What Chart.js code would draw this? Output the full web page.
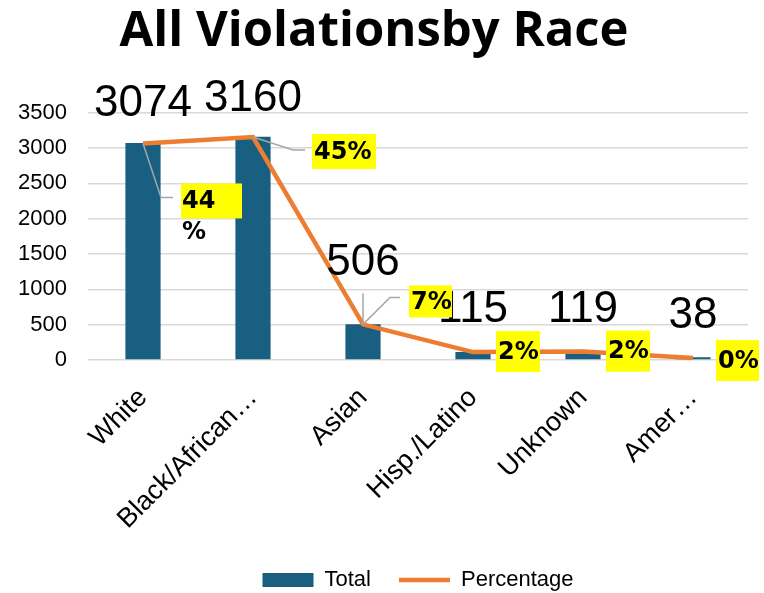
<!DOCTYPE html>
<html>
<head>
<meta charset="utf-8">
<script src="https://cdn.jsdelivr.net/npm/chart.js@4.4.1/dist/chart.umd.min.js"></script>
<style>
  body { margin: 0; background: #fff; }
</style>
</head>
<body>
<canvas id="myChart" width="764" height="593"></canvas>
<script>
var races = ['White', 'Black/African\u2026', 'Asian', 'Hisp./Latino', 'Unknown', 'Amer\u2026'];
var totals = [3074, 3160, 506, 115, 119, 38];
var percentages = [43.8, 45.1, 7.2, 1.6, 1.7, 0.4];
var yTicks = [0, 500, 1000, 1500, 2000, 2500, 3000, 3500];

// how far each value label sits above its bar (px)
var barLift = [27, 26, 49, 30, 30, 29];

// yellow percent boxes, placed relative to the line point
var pctBox = [
    {dx: 38, dy: 40, w: 61, h: 35, wrap: true, leader: [[0, 0], [18, 54], [30, 54]]},
    {dx: 59, dy: -3, w: 64, h: 35, leader: [[0, 0], [40, 13], [52, 13]]},
    {dx: 46, dy: -39, w: 43, h: 32, leader: [[0, 0], [27, -27], [37, -27]]},
    {dx: 23, dy: -21, w: 44, h: 41},
    {dx: 23, dy: -21, w: 44, h: 41},
    {dx: 23, dy: -18, w: 43, h: 41}
]

var labelPlugin = {
    id: 'valueLabels',
    afterLayout: function(chart) {
        // centre the legend under the plot, a bit lower
        var lg = chart.legend, ca = chart.chartArea
        var shift = (ca.left + ca.right) / 2 - (lg.left + lg.right) / 2
        lg.left += shift
        lg.right += shift
        lg.top += 8
        lg.bottom += 8
    },
    afterDatasetsDraw: function(chart) {
        var ctx = chart.ctx
        var bars = chart.getDatasetMeta(0).data
        var pts = chart.getDatasetMeta(1).data
        ctx.save()

        ctx.font = '44px "Liberation Sans"'
        ctx.fillStyle = '#000'
        ctx.textAlign = 'center'
        ctx.textBaseline = 'alphabetic'
        ctx.strokeStyle = '#a6a6a6'
        ctx.lineWidth = 1.5
        bars.forEach(function(b, i) {
            ctx.fillText(totals[i], b.x, b.y - barLift[i])
            if (barLift[i] > 40) {
                ctx.beginPath()
                ctx.moveTo(b.x, b.y - barLift[i] + 18)
                ctx.lineTo(b.x, b.y)
                ctx.stroke()
            }
        })

        pts.forEach(function(p, i) {
            var o = pctBox[i]
            if (o.leader) {
                ctx.beginPath()
                o.leader.forEach(function(l, k) {
                    if (k == 0) ctx.moveTo(p.x + l[0], p.y + l[1])
                    else ctx.lineTo(p.x + l[0], p.y + l[1])
                })
                ctx.stroke()
            }
            var x = p.x + o.dx, y = p.y + o.dy
            ctx.fillStyle = '#ffff00'
            ctx.fillRect(x, y, o.w, o.h)
            ctx.fillStyle = '#000'
            ctx.font = 'bold 24px "DejaVu Sans"'
            ctx.textAlign = 'left'
            ctx.textBaseline = 'middle'
            var txt = Math.round(percentages[i]) + '%'
            if (o.wrap) {
                ctx.fillText(txt.slice(0, -1), x + 1, y + o.h / 2 + 1)
                ctx.fillText('%', x + 1, y + o.h / 2 + 32)
            } else {
                ctx.fillText(txt, x + 2, y + o.h / 2 + 1)
            }
        })
        ctx.restore()
    }
}

var ctx = document.getElementById('myChart')
var myChart = new Chart(ctx, {
    type: 'bar',
    data: {
        labels: races,
        datasets: [{
            label: 'Total',
            data: totals,
            backgroundColor: '#185f82',
            borderWidth: 0,
            barPercentage: 0.32,
            categoryPercentage: 1,
            pointStyle: 'rect',
            order: 1,
            yAxisID: 'y'
        }, {
            type: 'line',
            label: 'Percentage',
            data: percentages,
            borderColor: '#ed7d31',
            backgroundColor: '#ed7d31',
            borderWidth: 4.5,
            tension: 0,
            pointRadius: 0,
            pointStyle: 'line',
            order: 0,
            yAxisID: 'y1'
        }]
    },
    options: {
        responsive: false,
        animation: false,
        layout: { padding: { left: 0, right: 16, top: 0, bottom: 0 } },
        plugins: {
            title: {
                display: true,
                text: 'All Violationsby Race',
                color: '#000',
                font: { family: 'Open Sans', size: 49, weight: 'bold' },
                padding: { top: 3, bottom: 51 }
            },
            legend: {
                position: 'bottom',
                labels: {
                    usePointStyle: true,
                    pointStyleWidth: 51,
                    boxHeight: 14,
                    padding: 28,
                    color: '#000',
                    font: { family: 'Liberation Sans', size: 22 },
                    sort: function(a, b) { return a.datasetIndex - b.datasetIndex }
                }
            },
            tooltip: { enabled: false }
        },
        scales: {
            x: {
                grid: { display: false, drawTicks: false },
                border: { display: false },
                ticks: {
                    color: '#000',
                    font: { family: 'Liberation Sans', size: 27 },
                    minRotation: 45,
                    maxRotation: 45,
                    autoSkip: false,
                    padding: 22
                },
                afterFit: function(s) { s.height = 173 }
            },
            y: {
                min: 0,
                max: 3500,
                grid: { color: '#d9d9d9', lineWidth: 1.5, drawTicks: false },
                border: { display: false },
                ticks: {
                    color: '#000',
                    font: { family: 'Liberation Sans', size: 22 },
                    padding: 21,
                    callback: function(v) { return String(v) }
                },
                afterBuildTicks: function(s) { s.ticks = yTicks.map(v => ({ value: v })) },
                afterFit: function(s) { s.width = 88 }
            },
            y1: {
                display: false,
                min: 0,
                max: 50
            }
        }
    },
    plugins: [labelPlugin]
})
</script>
</body>
</html>
